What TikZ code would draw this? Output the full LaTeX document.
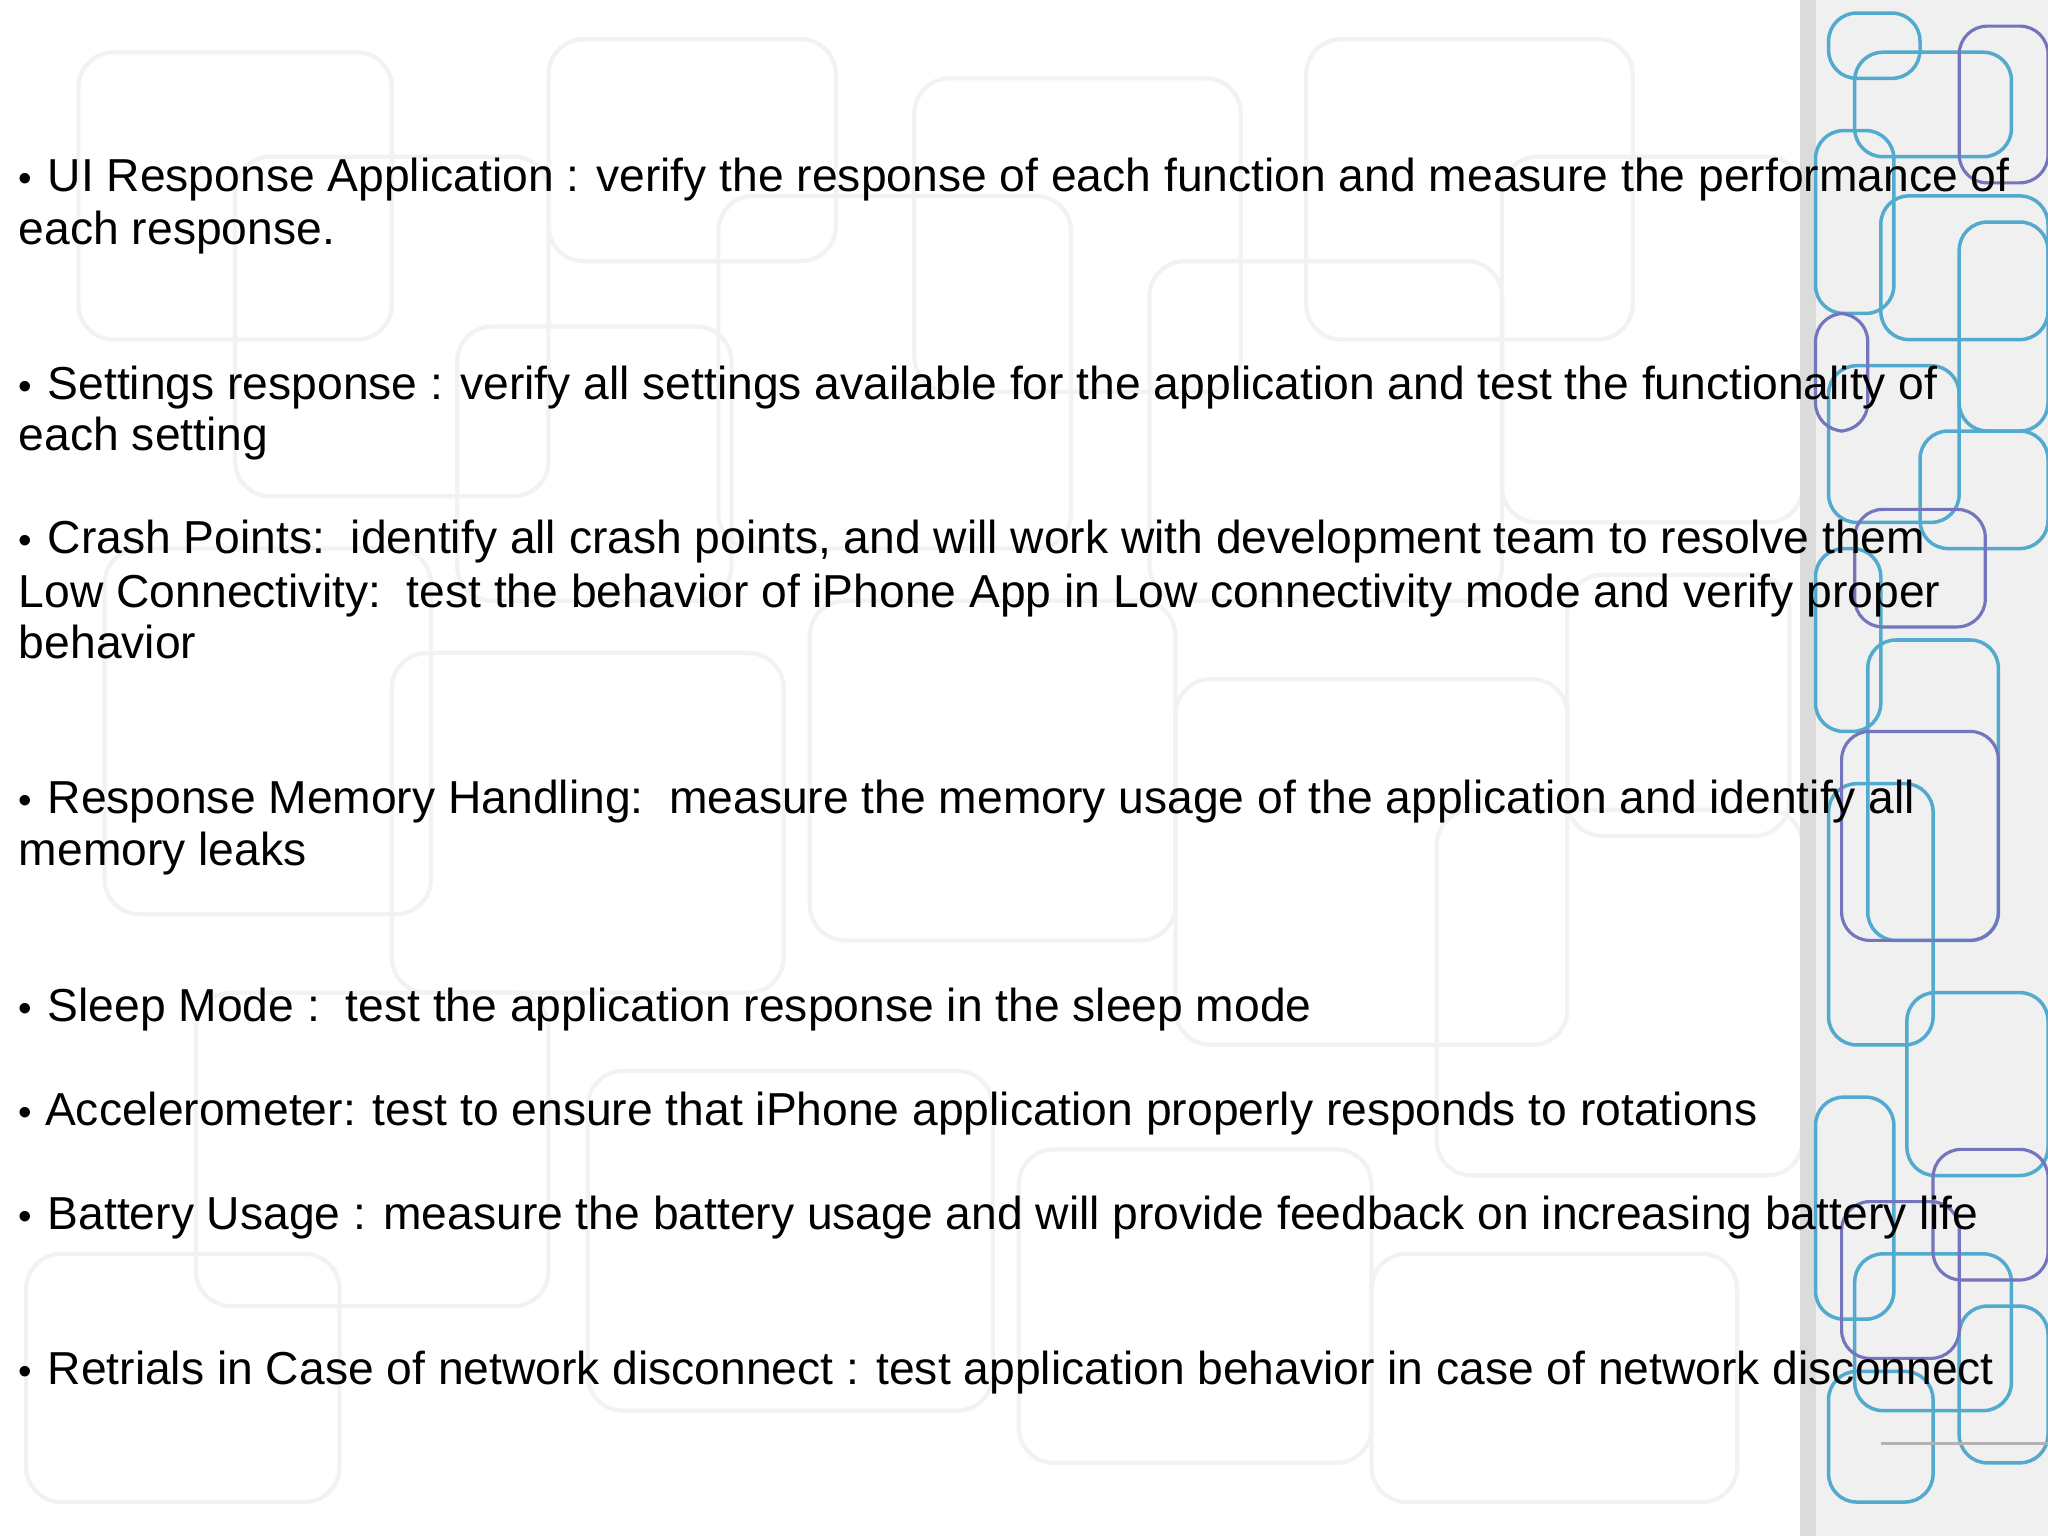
\documentclass[tikz,border=0pt]{standalone}
\usepackage{fontspec}
\setmainfont{Liberation Sans}
\begin{document}
\begin{tikzpicture}[x=0.013061cm,y=-0.013061cm,
  txt/.style={anchor=base west,inner sep=0pt,font=\fontsize{13.15}{15}\selectfont},
  bul/.style={anchor=base west,inner sep=0pt,font=\fontsize{11}{12}\selectfont},
  bg/.style={draw=gray!10,line width=1.2pt,rounded corners=10pt},
  tl/.style={draw=cyan!55!teal!80,line width=1pt,rounded corners=8pt},
  bl/.style={draw=blue!35!gray!80,line width=0.9pt,rounded corners=8pt}]
\useasboundingbox (0,0) rectangle (1568,1176);
\fill[white] (0,0) rectangle (1568,1176);
% faint background pattern
\foreach \a/\b/\c/\d in {60/40/300/260, 180/120/420/380, 420/30/640/200, 550/150/820/420, 700/60/950/300, 880/200/1150/460, 1000/30/1250/260, 1150/120/1380/400, 80/420/330/700, 300/500/600/760, 620/460/900/720, 900/520/1200/800, 1100/620/1380/900, 150/760/420/1000, 450/820/760/1080, 780/880/1050/1120, 1050/960/1330/1150, 20/960/260/1150, 350/250/560/460, 1200/440/1370/640}
  \draw[bg] (\a,\b) rectangle (\c,\d);
% right strip
\fill[gray!12] (1380,0) rectangle (1568,1176);
\fill[gray!28] (1378,0) rectangle (1390,1176);
\foreach \a/\b/\c/\d in {1400/10/1470/60, 1420/40/1540/120, 1390/100/1450/240, 1440/150/1568/260, 1400/280/1500/400, 1470/330/1568/420, 1390/420/1440/560, 1430/490/1530/720, 1400/600/1480/800, 1460/760/1568/900, 1390/840/1450/1010, 1420/960/1540/1080, 1400/1050/1480/1150, 1500/1000/1568/1120, 1500/170/1568/330}
  \draw[tl] (\a,\b) rectangle (\c,\d);
\foreach \a/\b/\c/\d in {1500/20/1568/140, 1390/240/1430/330, 1420/390/1520/480, 1410/560/1530/720, 1480/880/1568/980, 1410/920/1500/1040}
  \draw[bl] (\a,\b) rectangle (\c,\d);
\draw[gray!60,line width=1pt] (1440,1105) -- (1568,1105);
% text
\node[bul] (b1) at (14,147) {•};
\node[txt] (t1) at (36,147) {UI Response Application : verify the response of each function and measure the performance of};
\node[txt] (t1b) at (14,187) {each response.};
\node[bul] (b2) at (14,306) {•};
\node[txt] (t2) at (36,306) {Settings response : verify all settings available for the application and test the functionality of};
\node[txt] (t2b) at (14,345) {each setting};
\node[bul] (b3) at (14,424) {•};
\node[txt] (t3) at (36,424) {Crash Points:\ \ identify all crash points, and will work with development team to resolve them};
\node[txt] (t3b) at (14,465) {Low Connectivity:\ \ test the behavior of iPhone App in Low connectivity mode and verify proper};
\node[txt] (t3c) at (14,504) {behavior};
\node[bul] (b4) at (14,623) {•};
\node[txt] (t4) at (36,623) {Response Memory Handling:\ \ measure the memory usage of the application and identify all};
\node[txt] (t4b) at (14,663) {memory leaks};
\node[bul] (b5) at (14,782) {•};
\node[txt] (t5) at (36,782) {Sleep Mode :\ \ test the application response in the sleep mode};
\node[bul] (b6) at (14,862) {•};
\node[txt] (t6) at (34,862) {Accelerometer: test to ensure that iPhone application properly responds to rotations};
\node[bul] (b7) at (14,941) {•};
\node[txt] (t7) at (36,941) {Battery Usage : measure the battery usage and will provide feedback on increasing battery life};
\node[bul] (b8) at (14,1060) {•};
\node[txt] (t8) at (36,1060) {Retrials in Case of network disconnect : test application behavior in case of network disconnect};
\end{tikzpicture}
\end{document}
